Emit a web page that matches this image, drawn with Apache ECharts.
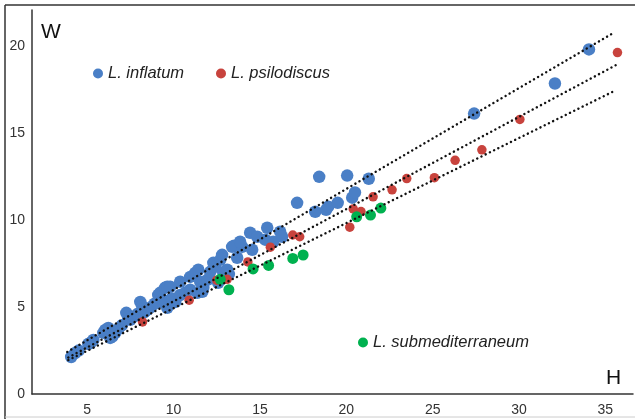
<!DOCTYPE html>
<html><head><meta charset="utf-8">
<script src="https://cdn.jsdelivr.net/npm/echarts@6/dist/echarts.min.js"></script>
<style>html,body{margin:0;padding:0;background:#fff}#c{width:635px;height:419px}</style>
</head><body><div id="c"></div>
<script>
// Series names
const names = ['L. inflatum', 'L. psilodiscus', 'L. submediterraneum'];
// [H, W] pairs
const inflatum = [
 [4.07,2.13],[4.3,2.36],[4.5,2.5],[5.06,2.88],[5.2,2.95],[5.35,3.11],[5.93,3.52],[6.04,3.69],
 [6.22,3.8],[6.33,3.23],[6.45,3.3],[6.62,3.52],[6.8,3.75],[7.0,3.95],[7.26,4.67],[7.37,4.38],
 [7.49,4.27],[7.7,4.45],[7.9,4.6],[8.07,5.3],[8.18,5.05],[8.3,4.7],[8.47,4.84],[8.7,5.0],
 [8.9,5.2],[9.05,5.24],[9.11,5.7],[9.22,5.82],[9.5,6.11],[9.63,6.17],[9.8,6.17],[9.63,4.96],
 [9.4,5.4],[9.8,5.42],[9.9,5.5],[10.1,5.3],[10.38,6.46],[10.38,5.7],[10.67,5.82],[10.96,6.74],
 [10.96,6.0],[11.25,6.97],[11.37,5.82],[11.43,7.15],[11.54,6.46],[11.66,5.88],[11.72,6.11],[11.95,6.57],
 [12.12,7.03],[12.3,7.55],[12.4,7.32],[12.58,6.4],[12.7,7.72],[12.81,8.01],[12.87,7.0],[13.1,7.15],
 [13.2,6.9],[13.39,8.47],[13.5,8.53],[13.68,7.84],[13.97,8.47],[13.85,8.76],[14.55,8.3],[14.43,9.28],
 [14.84,9.05],[15.42,9.57],[15.3,8.88],[15.77,8.76],[16.17,9.34],[16.28,9.05],[17.15,11.0],[18.2,10.49],
 [18.43,12.5],[18.83,10.6],[18.95,10.78],[19.5,11.0],[20.05,12.57],[20.34,11.3],[20.5,11.6],[21.3,12.39],
 [27.4,16.14],[32.08,17.87],[34.05,19.83]
];
const psilodiscus = [
 [8.2,4.15],[10.9,5.4],[12.5,6.55],[13.1,6.6],[14.3,7.6],[15.6,8.45],[16.9,9.15],[17.3,9.05],
 [20.2,9.6],[20.4,10.65],[20.85,10.5],[21.55,11.35],[22.65,11.75],[23.5,12.4],[25.1,12.45],
 [26.3,13.45],[27.85,14.05],[30.05,15.8],[35.7,19.65]
];
const submediterraneum = [
 [12.7,6.6],[13.2,6.0],[14.6,7.2],[15.5,7.4],[16.9,7.8],[17.5,8.0],[20.6,10.2],[21.4,10.3],[22.0,10.7]
];
// Trend line end points
const trendTop = [[3.84,2.42],[35.5,20.8]];
const trendMid = [[3.9,2.1],[35.67,18.96]];
const trendLow = [[3.9,1.95],[35.56,17.46]];
// Tick labels
const xTicks = [5,10,15,20,25,30,35];
const yTicks = [0,5,10,15,20];

const colors = ['#4a7fc6','#c8433d','#00b14f'];
const font = 'Liberation Sans, Arial, sans-serif';
const chart = echarts.init(document.getElementById('c'));
const trend = d => ({type:'line', data:d, symbol:'none', silent:true, z:5,
  lineStyle:{color:'#111', width:2.4, type:[0.1,4.6], cap:'round'}});
const legendCommon = {orient:'horizontal', icon:'circle', itemWidth:10, itemHeight:10, itemGap:6, padding:0,
  selectedMode:false, textStyle:{fontFamily:font, fontSize:16.5, fontStyle:'italic', color:'#222'}};
chart.setOption({
  animation:false,
  grid:{left:32, top:10, right:2, bottom:25},
  xAxis:{type:'value', min:1.8, max:36.6,
    axisLine:{lineStyle:{color:'#333', width:1.5}}, axisTick:{show:false}, splitLine:{show:false},
    axisLabel:{customValues:xTicks, color:'#333', fontFamily:font, fontSize:14, margin:9}},
  yAxis:{type:'value', min:0, max:22.1,
    axisLine:{show:true, onZero:false, lineStyle:{color:'#333', width:1.5}}, axisTick:{show:false}, splitLine:{show:false},
    axisLabel:{customValues:yTicks, color:'#333', fontFamily:font, fontSize:14, margin:7}},
  legend:[
    Object.assign({data:[names[0]], left:93, top:65}, legendCommon),
    Object.assign({data:[names[1]], left:216, top:65}, legendCommon),
    Object.assign({data:[names[2]], left:358, top:334}, legendCommon)
  ],
  series:[
    trend(trendTop), trend(trendMid), trend(trendLow),
    {name:names[0], type:'scatter', data:inflatum, symbolSize:12.5, itemStyle:{color:colors[0], opacity:1}, z:2},
    {name:names[1], type:'scatter', data:psilodiscus, symbolSize:9.5, itemStyle:{color:colors[1], opacity:1}, z:3},
    {name:names[2], type:'scatter', data:submediterraneum, symbolSize:11, itemStyle:{color:colors[2], opacity:1}, z:4}
  ],
  graphic:[
    {type:'line', shape:{x1:5, y1:5, x2:635, y2:5}, style:{stroke:'#333', lineWidth:1.5}},
    {type:'line', shape:{x1:5, y1:5, x2:5, y2:419}, style:{stroke:'#333', lineWidth:1.5}},
    {type:'line', shape:{x1:5, y1:417, x2:635, y2:417}, style:{stroke:'#ccc', lineWidth:1}},
    {type:'text', left:41, top:22, style:{text:'W', font:'21px '+font, fill:'#111'}},
    {type:'text', left:606, top:368, style:{text:'H', font:'21px '+font, fill:'#111'}}
  ]
});
</script></body></html>
